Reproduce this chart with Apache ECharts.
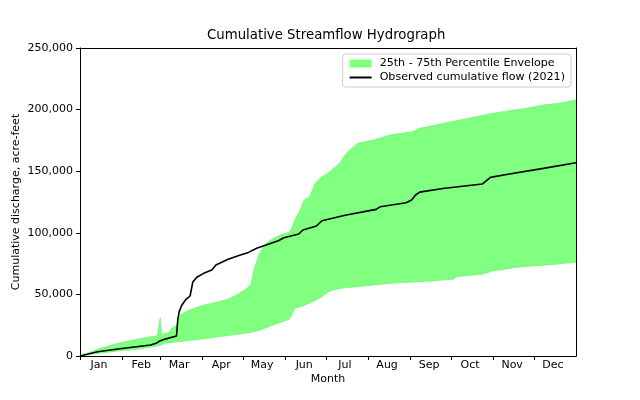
<!DOCTYPE html>
<html>
<head>
<meta charset="utf-8">
<script src="https://cdn.jsdelivr.net/npm/echarts@6/dist/echarts.min.js"></script>
<style>html,body{margin:0;padding:0;background:#fff}#c{width:640px;height:400px}</style>
</head>
<body>
<div id="c"></div>
<script>
// Month axis
var monthNames = ['Jan','Feb','Mar','Apr','May','Jun','Jul','Aug','Sep','Oct','Nov','Dec'];
var monthStartDays = [0,31,59,90,120,151,181,212,243,273,304,334];
var monthMidDays = [14,45,73,104,134,165,195,226,257,287,318,348];

// Percentile envelope (day of year, acre-feet)
var bandDays = [0,14,28,43,57,58,59,60,62,65,68,71,73,80,90,100,109,116,121,124,126,128,132,136,140,147,154,156,158,162,165,169,173,177,184,191,196,204,216,228,245,250,260,268,275,277,280,292,296,304,316,321,329,341,353,365];
var p75 = [0,5800,10300,13800,16500,16700,31000,17200,18000,18900,23000,24500,33000,37000,41000,43500,46000,50000,53500,56000,58500,70000,83000,90000,94000,98000,100500,104000,110000,118500,126600,129300,140000,144500,149600,156400,164500,172500,175300,179400,182100,184800,187000,189000,190500,191000,191600,194300,195200,197000,199100,199800,201100,203700,205100,207800];
var p25 = [0,2300,4000,5700,8100,8200,8300,9000,10300,10600,11000,11500,11700,12600,13800,15400,16600,17600,18400,18900,19300,19800,21000,22500,24400,27000,30000,34000,38700,40000,41000,43000,45000,47500,53000,54800,55500,56300,57600,59000,60000,60300,60900,61800,62500,64400,64800,66000,66300,69200,71000,72000,72800,73700,74800,76100];

// Observed cumulative flow 2021
var obsDays = [0,13,28,52,56,59,62,71,72,73,75,78,81,83,86,91,97,100,109,118,124,130,146,150,161,164,174,178,196,218,221,240,244,247,250,267,296,302,316,341,365];
var obsVals = [0,3500,5700,8900,10300,12400,13500,16200,30000,36000,41400,46000,48700,60000,63900,67100,69800,73900,78500,82000,84100,87400,93600,96000,99000,102300,105500,109800,114400,119000,121200,124400,126600,130700,133000,136000,139600,145000,147700,152300,156900];

var bandName = '25th - 75th Percentile Envelope';
var obsName = 'Observed cumulative flow (2021)';
var FONT = 'DejaVu Sans';

var highData = bandDays.map(function(d,i){return [d, p75[i]];});
var lowData = bandDays.map(function(d,i){return [d, p25[i]];});
var obsData = obsDays.map(function(d,i){return [d, obsVals[i]];});

var chart = echarts.init(document.getElementById('c'), null, {renderer:'canvas'});
chart.setOption({
  animation: false,
  backgroundColor: '#ffffff',
  title: {
    text: 'Cumulative Streamflow Hydrograph',
    left: 207, top: 29, padding: 0,
    textStyle: {fontFamily: FONT, fontSize: 13.3, fontWeight: 'normal', color: '#000'}
  },
  grid: {left: 80, right: 64, top: 48, bottom: 44, show: false, containLabel: false, outerBoundsMode: 'none'},
  legend: {
    right: 69, top: 54, orient: 'vertical',
    itemWidth: 22, itemHeight: 8, itemGap: 3,
    padding: [4, 6, 4, 6],
    borderColor: '#cccccc', borderWidth: 1, borderRadius: 3,
    backgroundColor: 'rgba(255,255,255,0.8)',
    textStyle: {fontFamily: FONT, fontSize: 11.1, color: '#000', padding: [0, 0, 0, 3]},
    data: [
      {name: bandName, icon: 'rect', itemStyle: {color: '#80ff80'}},
      {name: obsName, itemStyle: {opacity: 0}}
    ]
  },
  xAxis: [{
    type: 'value', min: 0, max: 365, z: 5,
    name: 'Month', nameLocation: 'middle', nameGap: 18, nameMoveOverlap: false,
    nameTextStyle: {fontFamily: FONT, fontSize: 11, color: '#000'},
    axisLine: {show: true, lineStyle: {color: '#000', width: 1}},
    axisTick: {show: true, length: 4, customValues: monthStartDays, lineStyle: {color: '#000'}},
    axisLabel: {
      customValues: monthMidDays, margin: 4,
      fontFamily: FONT, fontSize: 11, color: '#000',
      formatter: function(v){ var i = monthMidDays.indexOf(v); return i >= 0 ? monthNames[i] : ''; }
    },
    splitLine: {show: false}
  }, {
    type: 'value', min: 0, max: 365, position: 'top', z: 5,
    axisLine: {show: true, onZero: false, lineStyle: {color: '#000', width: 1}},
    axisTick: {show: false}, axisLabel: {show: false}, splitLine: {show: false}
  }],
  yAxis: [{
    type: 'value', min: 0, max: 250000, interval: 50000, z: 5,
    name: 'Cumulative discharge, acre-feet', nameLocation: 'middle', nameGap: 58, nameMoveOverlap: false,
    nameTextStyle: {fontFamily: FONT, fontSize: 11, color: '#000'},
    axisLine: {show: true, lineStyle: {color: '#000', width: 1}},
    axisTick: {show: true, length: 4, lineStyle: {color: '#000'}},
    axisLabel: {
      margin: 7, fontFamily: FONT, fontSize: 11, color: '#000',
      formatter: function(v){ return v.toLocaleString('en-US'); }
    },
    splitLine: {show: false}
  }, {
    type: 'value', min: 0, max: 250000, position: 'right', z: 5,
    axisLine: {show: true, onZero: false, lineStyle: {color: '#000', width: 1}},
    axisTick: {show: false}, axisLabel: {show: false}, splitLine: {show: false}
  }],
  series: [
    {
      name: bandName, type: 'line', data: highData, z: 2,
      symbol: 'none', itemStyle: {color: '#80ff80'},
      lineStyle: {width: 0.8, color: '#72f872'},
      areaStyle: {color: '#80ff80', opacity: 1}, silent: true
    },
    {
      name: 'p25', type: 'line', data: lowData, z: 3,
      symbol: 'none', itemStyle: {color: '#ffffff'},
      lineStyle: {width: 0.8, color: '#72f872'},
      areaStyle: {color: '#ffffff', opacity: 1}, silent: true
    },
    {
      name: obsName, type: 'line', data: obsData, z: 4,
      symbol: 'none', itemStyle: {color: '#000'},
      lineStyle: {width: 1.6, color: '#000'}
    }
  ]
});
</script>
</body>
</html>
